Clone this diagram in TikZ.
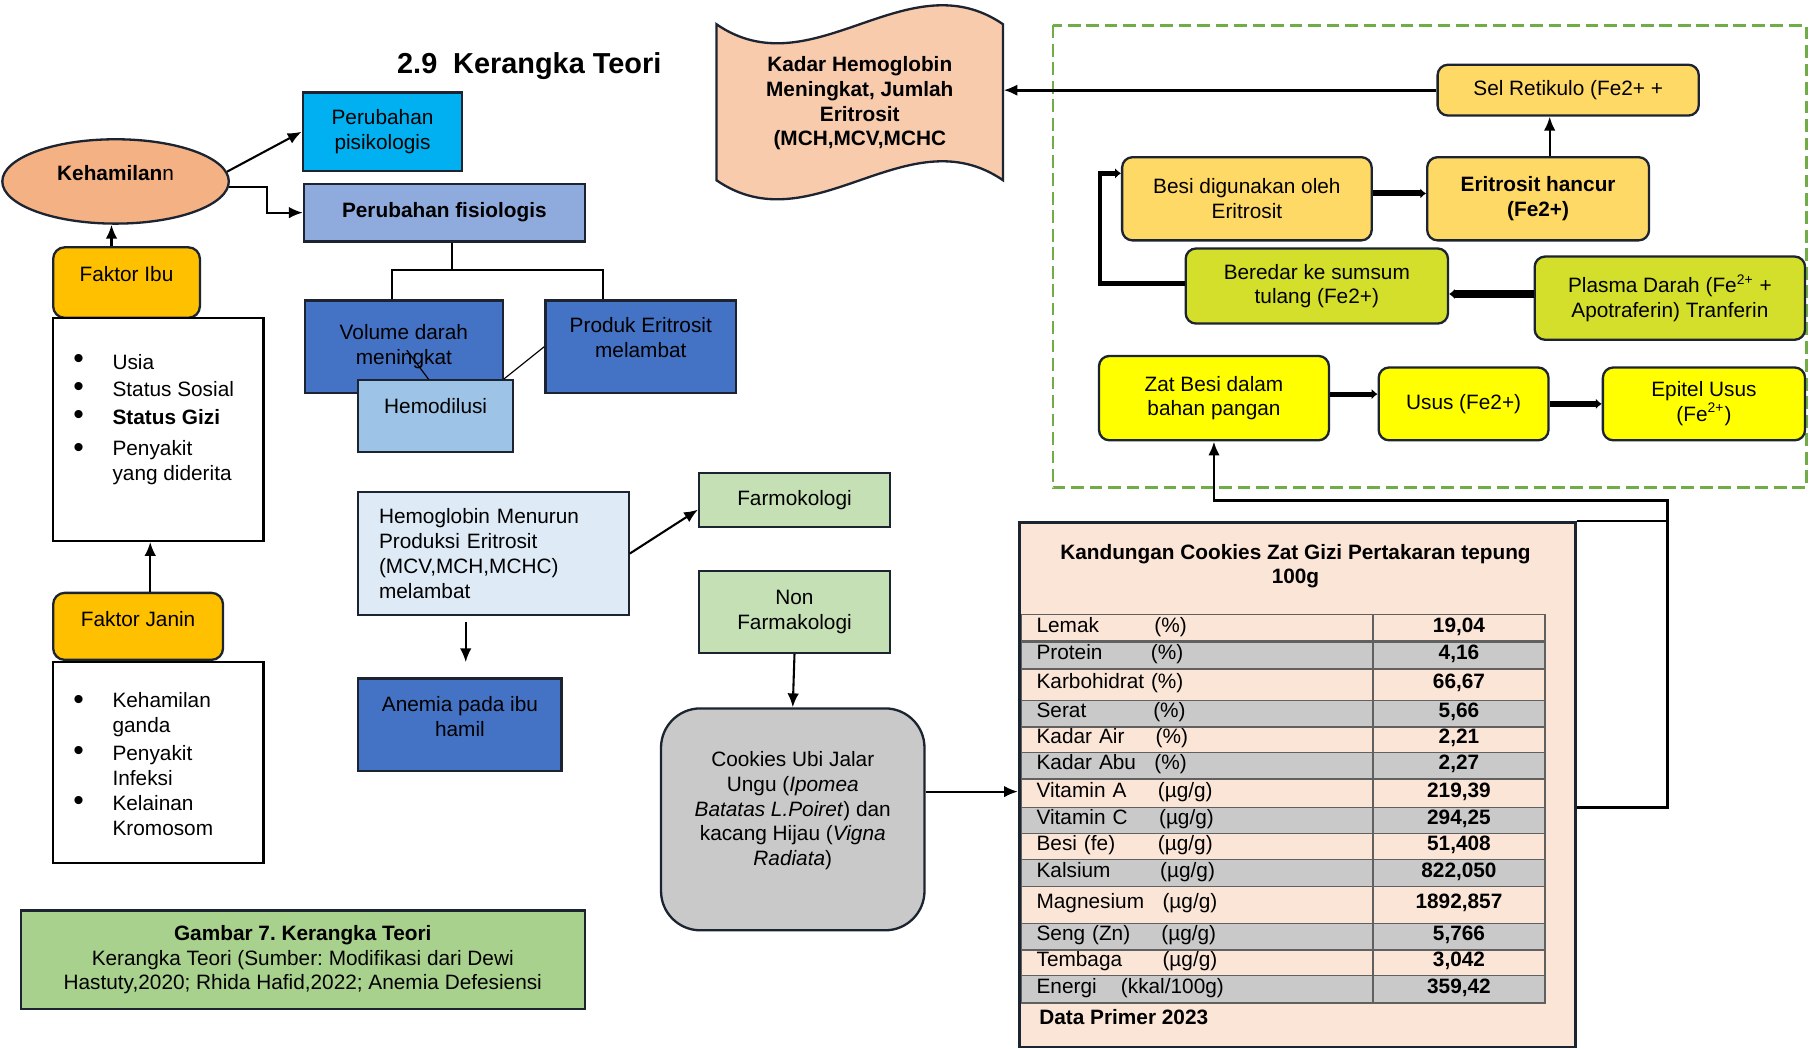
\documentclass[tikz,border=0pt]{standalone}
\usepackage{fontspec}
\setmainfont{Liberation Sans}
\usepackage{xcolor}
\usetikzlibrary{arrows.meta,shapes.geometric}
\frenchspacing

\definecolor{bordc}{HTML}{1C2331}
\definecolor{salm}{HTML}{F4B183}
\definecolor{cyanb}{HTML}{00B0F0}
\definecolor{fisb}{HTML}{8FAADC}
\definecolor{orng}{HTML}{FFC000}
\definecolor{blu}{HTML}{4472C4}
\definecolor{hemob}{HTML}{9DC3E6}
\definecolor{pale}{HTML}{DEEBF7}
\definecolor{lgrn}{HTML}{C5E0B4}
\definecolor{capg}{HTML}{A9D18E}
\definecolor{gry}{HTML}{C9C9C9}
\definecolor{pch}{HTML}{FBE5D6}
\definecolor{tapec}{HTML}{F8CBAD}
\definecolor{ylo}{HTML}{FFD966}
\definecolor{ygr}{HTML}{D4DF2B}
\definecolor{yel}{HTML}{FFFF00}
\definecolor{dgrn}{HTML}{70AD47}

\newcommand{\txtf}{\fontsize{9}{10.7}\selectfont}
\newcommand{\rowlab}[2]{\makebox[#1][l]{#2}}
\newcommand{\bul}{{\fontsize{13}{13}\selectfont\textbullet}}

\begin{document}
\begin{tikzpicture}[x=0.5pt, y=-0.5pt,
  box/.style={draw=bordc, line width=1pt, inner sep=0pt, align=center, font=\txtf},
  rbox/.style={box, rounded corners=4.5pt},
  lbl/.style={font=\txtf, align=center, inner sep=0pt},
  arr/.style={-{Latex[length=6pt,width=5pt]}, line width=0.9pt},
  thk/.style={-{Latex[length=2.5pt,width=4.5pt]}, line width=2.6pt},
  cellL/.style={draw=gray!75!black, line width=0.6pt, outer sep=0pt, anchor=north west, text width=139pt, inner xsep=6.5pt, inner ysep=0pt, align=left, font=\txtf, text height=6.5pt, text depth=3pt},
  cellR/.style={draw=gray!75!black, line width=0.6pt, outer sep=0pt, anchor=north west, minimum width=74.5pt, inner sep=0pt, font=\txtf\bfseries, text height=6.5pt, text depth=3pt}]

  \path[use as bounding box, fill=white] (0,0) rectangle (1568,907);

  \draw (458,57) node (ttl) [font=\fontsize{12.5}{15}\selectfont\bfseries] {2.9\hspace{0.55em}Kerangka Teori};

  \draw (100,157) node (keh) [ellipse, draw=bordc, line width=1pt, fill=salm, minimum width=98pt, minimum height=36.5pt, inner sep=0pt, label={[lbl,yshift=3.5pt]center:{\textbf{Kehamilan}n}}] {};
  \draw (331,114) node (psi) [box, fill=cyanb, minimum width=69pt, minimum height=34pt] {Perubahan\\pisikologis};
  \draw (384.5,184) node (fis) [box, fill=fisb, minimum width=121.5pt, minimum height=25pt, font=\txtf\bfseries] {Perubahan fisiologis};
  \draw[arr] (keh.5) -- (psi.west);
  \draw[arr] (keh.357) -- ++(16.5pt,0) |- (fis.west);

  \draw (109.5,244.5) node (ibu) [rbox, rounded corners=5pt, fill=orng, minimum width=63.5pt, minimum height=30.5pt, label={[lbl,yshift=3.75pt]center:Faktor Ibu}] {};
  \draw[arr] ([xshift=-1.75pt]ibu.north -| keh.south) -- ([xshift=-1.75pt]keh.south);

  \draw (137,371.5) node (lst1) [box, draw=black, minimum width=91pt, minimum height=96.5pt] {};
  \draw (68,313) node (b11) [lbl] {\bul};
  \draw (97,313) node (t11) [lbl, anchor=west] {Usia};
  \draw (68,337) node (b12) [lbl] {\bul};
  \draw (97,337) node (t12) [lbl, anchor=west] {Status Sosial};
  \draw (68,361) node (b13) [lbl] {\bul};
  \draw (97,361) node (t13) [lbl, anchor=west, font=\txtf\bfseries] {Status Gizi};
  \draw (68,390) node (b14) [lbl] {\bul};
  \draw (97,400.5) node (t14) [lbl, anchor=west, align=left] {Penyakit\\yang diderita};

  \draw (119.5,542) node (janin) [rbox, rounded corners=5pt, fill=orng, minimum width=73.5pt, minimum height=29pt, label={[lbl,yshift=3pt]center:Faktor Janin}] {};
  \coordinate (jup) at ([xshift=-3.5pt]lst1.south);
  \draw[arr] (jup |- janin.north) -- (jup);

  \draw (137,660) node (lst2) [box, draw=black, minimum width=91pt, minimum height=87pt] {};
  \draw (68,608) node (b21) [lbl] {\bul};
  \draw (97,618.5) node (t21) [lbl, anchor=west, align=left] {Kehamilan\\ganda};
  \draw (68,652) node (b22) [lbl] {\bul};
  \draw (97,662.5) node (t22) [lbl, anchor=west, align=left] {Penyakit\\Infeksi};
  \draw (68,695) node (b23) [lbl] {\bul};
  \draw (97,706) node (t23) [lbl, anchor=west, align=left] {Kelainan\\Kromosom};

  \draw (262,830.5) node (capt) [box, fill=capg, minimum width=244pt, minimum height=42.5pt] {\textbf{Gambar 7. Kerangka Teori}\\Kerangka Teori (Sumber: Modifikasi dari Dewi\\Hastuty,2020; Rhida Hafid,2022; Anemia Defesiensi};

  \draw (349.5,300) node (vol) [box, fill=blu, minimum width=85.5pt, minimum height=40pt] {Volume darah\\meningkat};
  \draw (554.5,300) node (prod) [box, fill=blu, minimum width=82.5pt, minimum height=40pt, label={[lbl,yshift=4pt]center:{Produk Eritrosit\\melambat}}] {};
  \draw (377,360) node (hemo) [box, fill=hemob, minimum width=67pt, minimum height=31pt, label={[lbl,yshift=4.5pt]center:Hemodilusi}] {};
  \draw[line width=0.9pt] ([xshift=3.25pt]fis.south) -- ++(0,-12pt) coordinate (fk);
  \draw[line width=0.9pt] ([xshift=-5.25pt]vol.north) |- (fk) -| ([xshift=-16.25pt]prod.north);
  \coordinate (vm) at (352,303);
  \draw[line width=0.5pt] (vm) -- ([xshift=-3.15pt]hemo.north);
  \draw[line width=0.5pt] (vol.east |- hemo.north) -- (prod.west);

  \draw (427,479) node (hb) [box, fill=pale, minimum width=117pt, minimum height=53pt, text width=99pt, inner xsep=9pt, align=left] {Hemoglobin Menurun\\Produksi Eritrosit\\(MCV,MCH,MCHC)\\melambat};
  \draw (398,627) node (anem) [box, fill=blu, minimum width=88pt, minimum height=40pt, label={[lbl,yshift=3.5pt]center:{Anemia pada ibu\\hamil}}] {};
  \coordinate (h1) at (403,538);
  \coordinate (h2) at (403,573);
  \draw[arr] (h1) -- (h2);

  \draw (687.5,432.5) node (farm) [box, fill=lgrn, minimum width=82.5pt, minimum height=23.5pt] {Farmokologi};
  \draw (687.5,529.5) node (nonf) [box, fill=lgrn, minimum width=82.5pt, minimum height=35.5pt] {Non\\Farmakologi};
  \draw[arr] (hb.east) -- ([yshift=-4.25pt]farm.west);
  \draw (686,709) node (cook) [box, fill=gry, rounded corners=17pt, minimum width=114pt, minimum height=96pt, label={[lbl,yshift=3.75pt]center:{Cookies Ubi Jalar\\Ungu (\textit{Ipomea}\\\textit{Batatas L.Poiret}) dan\\kacang Hijau (\textit{Vigna}\\\textit{Radiata})}}] {};
  \draw[arr] (nonf.south) -- (cook.north);

  \draw (1122.5,679) node (tbl) [box, line width=1.2pt, fill=pch, minimum width=240.5pt, minimum height=227pt] {};
  \draw (1121,490) node (tt) [lbl, font=\txtf\bfseries] {Kandungan Cookies Zat Gizi Pertakaran tepung\\100g};

  \draw (884,532) node (r1) [cellL, fill=pch, minimum height=11.5pt] {\rowlab{51pt}{Lemak}(\%)};
  \draw (r1.north east) node (v1) [cellR, fill=pch, minimum height=11.5pt] {19,04};
  \draw (r1.south west) node (r2) [cellL, fill=gry, minimum height=12pt] {\rowlab{49.5pt}{Protein}(\%)};
  \draw (r2.north east) node (v2) [cellR, fill=gry, minimum height=12pt] {4,16};
  \draw (r2.south west) node (r3) [cellL, fill=pch, minimum height=13.5pt] {Karbohidrat (\%)};
  \draw (r3.north east) node (v3) [cellR, fill=pch, minimum height=13.5pt] {66,67};
  \draw (r3.south west) node (r4) [cellL, fill=gry, minimum height=11.5pt] {\rowlab{50.5pt}{Serat}(\%)};
  \draw (r4.north east) node (v4) [cellR, fill=gry, minimum height=11.5pt] {5,66};
  \draw (r4.south west) node (r5) [cellL, fill=pch, minimum height=11pt] {\rowlab{51.5pt}{Kadar Air}(\%)};
  \draw (r5.north east) node (v5) [cellR, fill=pch, minimum height=11pt] {2,21};
  \draw (r5.south west) node (r6) [cellL, fill=gry, minimum height=11.5pt] {\rowlab{51pt}{Kadar Abu}(\%)};
  \draw (r6.north east) node (v6) [cellR, fill=gry, minimum height=11.5pt] {2,27};
  \draw (r6.south west) node (r7) [cellL, fill=pch, minimum height=12.5pt] {\rowlab{52.5pt}{Vitamin A}(µg/g)};
  \draw (r7.north east) node (v7) [cellR, fill=pch, minimum height=12.5pt] {219,39};
  \draw (r7.south west) node (r8) [cellL, fill=gry, minimum height=11pt] {\rowlab{53pt}{Vitamin C}(µg/g)};
  \draw (r8.north east) node (v8) [cellR, fill=gry, minimum height=11pt] {294,25};
  \draw (r8.south west) node (r9) [cellL, fill=pch, minimum height=11.5pt] {\rowlab{52.5pt}{Besi (fe)}(µg/g)};
  \draw (r9.north east) node (v9) [cellR, fill=pch, minimum height=11.5pt] {51,408};
  \draw (r9.south west) node (r10) [cellL, fill=gry, minimum height=11.5pt] {\rowlab{53.5pt}{Kalsium}(µg/g)};
  \draw (r10.north east) node (v10) [cellR, fill=gry, minimum height=11.5pt] {822,050};
  \draw (r10.south west) node (r11) [cellL, fill=pch, minimum height=16pt] {\rowlab{54.5pt}{Magnesium}(µg/g)};
  \draw (r11.north east) node (v11) [cellR, fill=pch, minimum height=16pt] {1892,857};
  \draw (r11.south west) node (r12) [cellL, fill=gry, minimum height=11.5pt] {\rowlab{54pt}{Seng (Zn)}(µg/g)};
  \draw (r12.north east) node (v12) [cellR, fill=gry, minimum height=11.5pt] {5,766};
  \draw (r12.south west) node (r13) [cellL, fill=pch, minimum height=11pt] {\rowlab{54.5pt}{Tembaga}(µg/g)};
  \draw (r13.north east) node (v13) [cellR, fill=pch, minimum height=11pt] {3,042};
  \draw (r13.south west) node (r14) [cellL, fill=gry, minimum height=12pt] {\rowlab{36.5pt}{Energi}(kkal/100g)};
  \draw (r14.north east) node (v14) [cellR, fill=gry, minimum height=12pt] {359,42};
  \draw[line width=1.6pt, gray!75!black] (r1.south west) -- (v1.south east);
  \draw (899,880) node (dp) [lbl, anchor=west, font=\txtf\bfseries] {Data Primer 2023};

  \draw[arr] ([yshift=12pt]cook.east) -- ([yshift=12pt]cook.east -| tbl.west);

  \draw[dgrn, line width=1.1pt, dash pattern=on 5.5pt off 2.5pt] (911,22) rectangle (1563,422);

  \draw[bordc, fill=tapec, line width=1pt] (620,21) .. controls (703,78) and (785,-36) .. (868,21) -- (868,156) .. controls (785,99) and (703,213) .. (620,156) -- cycle;
  \draw (744,89.5) node (kadar) [lbl, font=\txtf\bfseries, minimum width=124pt, minimum height=67.5pt] {Kadar Hemoglobin\\Meningkat, Jumlah\\Eritrosit\\(MCH,MCV,MCHC};

  \draw (1357,78) node (selr) [rbox, fill=ylo, minimum width=113pt, minimum height=22pt] {Sel Retikulo (Fe2+ +};
  \draw (1331,172) node (hanc) [rbox, fill=ylo, minimum width=96pt, minimum height=36pt, font=\txtf\bfseries] {Eritrosit hancur\\(Fe2+)};
  \draw (1079,172) node (besi) [rbox, fill=ylo, minimum width=108pt, minimum height=36pt] {Besi digunakan oleh\\Eritrosit};
  \draw (1139.5,247.5) node (bered) [rbox, fill=ygr, minimum width=113.5pt, minimum height=32.5pt] {Beredar ke sumsum\\tulang (Fe2+)};
  \draw (1445,258) node (plas) [rbox, fill=ygr, minimum width=117pt, minimum height=36pt] {Plasma Darah (Fe\textsuperscript{2+} +\\Apotraferin) Tranferin};
  \draw (1050.5,344.5) node (zat) [rbox, fill=yel, minimum width=99.5pt, minimum height=36.5pt] {Zat Besi dalam\\bahan pangan};
  \draw (1266.5,349.5) node (usus) [rbox, fill=yel, minimum width=73.5pt, minimum height=31.5pt] {Usus (Fe2+)};
  \draw (1474.5,349.5) node (epit) [rbox, fill=yel, minimum width=87.5pt, minimum height=31.5pt] {Epitel Usus\\(Fe\textsuperscript{2+})};

  \draw[arr, line width=1.2pt] (selr.west) -- (selr.west -| kadar.east);
  \draw[arr] ([xshift=5pt]hanc.north) -- ([xshift=5pt]hanc.north |- selr.south);
  \draw[thk] ([yshift=2.3pt]besi.east) -- ([yshift=2.3pt]besi.east -| hanc.west);
  \draw[thk, line width=3.5pt] ([yshift=1.8pt]plas.west) -- ([yshift=1.8pt]plas.west -| bered.east);
  \draw[thk, line width=2pt] ([yshift=1pt]bered.west) -- ++(-36.5pt,0) |- ([yshift=11pt]besi.west);
  \draw[thk, line width=2.2pt] ([yshift=1.75pt]zat.east) -- ([yshift=1.75pt]zat.east -| usus.west);
  \draw[thk] (usus.east) -- (epit.west);

  \coordinate (jn) at (1443,433);
  \draw[arr, line width=1.2pt] ([yshift=-10pt]tbl.east) -| (jn) -| (zat.south);
  \draw[line width=1.2pt] (tbl.north east) -- (tbl.north east -| jn);

\end{tikzpicture}
\end{document}
